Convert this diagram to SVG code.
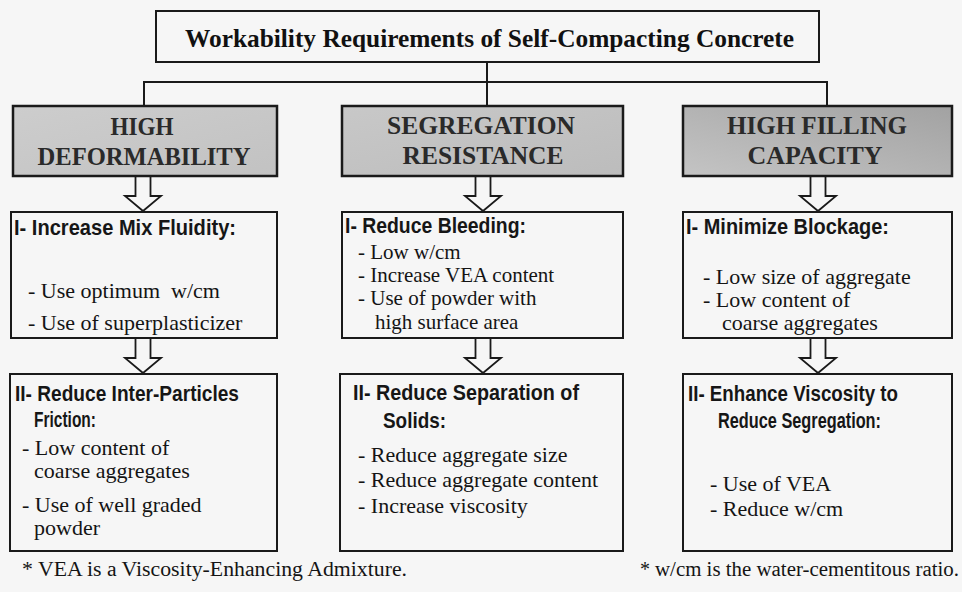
<svg xmlns="http://www.w3.org/2000/svg" width="962" height="592" viewBox="0 0 962 592">
<defs>
<style>
.bg{fill:#f6f6f6}
.box{fill:none;stroke:#1a1a1a;stroke-width:2}
.gbox{stroke:#1a1a1a;stroke-width:2.5}
.title{font-family:"Liberation Serif","Times New Roman",serif;font-weight:bold;font-size:25px;fill:#111}
.cat{font-family:"Liberation Serif","Times New Roman",serif;font-weight:bold;font-size:25px;fill:#2a2a2a;text-anchor:middle}
.hd{font-family:"Liberation Sans",Arial,sans-serif;font-weight:bold;font-size:22px;fill:#161616}
.tx{font-family:"Liberation Serif","Times New Roman",serif;font-size:22px;fill:#141414}
.tm{font-size:21px}
.fn{font-family:"Liberation Serif","Times New Roman",serif;font-size:20px;fill:#141414}
.ln{fill:none;stroke:#1a1a1a;stroke-width:2}
.arr{fill:#f6f6f6;stroke:#1a1a1a;stroke-width:1.8}
</style>
<linearGradient id="gL" x1="0" y1="0" x2="1" y2="1">
<stop offset="0" stop-color="#cdcdcd"/><stop offset="1" stop-color="#c2c2c2"/>
</linearGradient>
<linearGradient id="gM" x1="0" y1="0" x2="1" y2="1">
<stop offset="0" stop-color="#c8c8c8"/><stop offset="1" stop-color="#bcbcbc"/>
</linearGradient>
<linearGradient id="gR" x1="0" y1="1" x2="1" y2="0">
<stop offset="0" stop-color="#c4c4c4"/><stop offset="1" stop-color="#a2a2a2"/>
</linearGradient>
<path id="ar" d="M-7.5,0 V20 H-18 L0,35 L18,20 H7.5 V0"/>
</defs>
<rect class="bg" x="0" y="0" width="962" height="592"/>

<g id="connectors">
<polyline class="ln" points="144,107 144,82 827,82 827,107"/>
<line class="ln" x1="487" y1="62" x2="487" y2="106"/>
<use href="#ar" class="arr" transform="translate(143,176)"/>
<use href="#ar" class="arr" transform="translate(483,176)"/>
<use href="#ar" class="arr" transform="translate(818,176)"/>
<use href="#ar" class="arr" transform="translate(143,338)"/>
<use href="#ar" class="arr" transform="translate(483,338)"/>
<use href="#ar" class="arr" transform="translate(818,338)"/>
</g>

<g id="title">
<rect class="box" x="156" y="11" width="663" height="51" fill="#f6f6f6"/>
<text class="title" x="185" y="47" textLength="609" lengthAdjust="spacingAndGlyphs">Workability Requirements of Self-Compacting Concrete</text>
</g>

<g id="high-deformability">
<rect class="gbox" x="13" y="106" width="264" height="70" fill="url(#gL)"/>
<text class="cat" x="142" y="135" textLength="63" lengthAdjust="spacingAndGlyphs">HIGH</text>
<text class="cat" x="144" y="165" textLength="213" lengthAdjust="spacingAndGlyphs">DEFORMABILITY</text>
</g>

<g id="segregation-resistance">
<rect class="gbox" x="342" y="106" width="281" height="70" fill="url(#gM)"/>
<text class="cat" x="481" y="134" textLength="188" lengthAdjust="spacingAndGlyphs">SEGREGATION</text>
<text class="cat" x="483" y="164" textLength="161" lengthAdjust="spacingAndGlyphs">RESISTANCE</text>
</g>

<g id="high-filling-capacity">
<rect class="gbox" x="683" y="106" width="269" height="70" fill="url(#gR)"/>
<text class="cat" x="817" y="134" textLength="180" lengthAdjust="spacingAndGlyphs">HIGH FILLING</text>
<text class="cat" x="815" y="164" textLength="135" lengthAdjust="spacingAndGlyphs">CAPACITY</text>
</g>

<g id="increase-mix-fluidity">
<rect class="box" x="11" y="212" width="266" height="126"/>
<text class="hd" x="14" y="235" textLength="222" lengthAdjust="spacingAndGlyphs">I- Increase Mix Fluidity:</text>
<text class="tx" x="28" y="298">- Use optimum&#160; w/cm</text>
<text class="tx" x="28" y="330">- Use of superplasticizer</text>
</g>

<g id="reduce-bleeding">
<rect class="box" x="342" y="212" width="281" height="126"/>
<text class="hd" x="345" y="233" textLength="181" lengthAdjust="spacingAndGlyphs">I- Reduce Bleeding:</text>
<text class="tx tm" x="358" y="259">- Low w/cm</text>
<text class="tx tm" x="358" y="282">- Increase VEA content</text>
<text class="tx tm" x="358" y="305">- Use of powder with</text>
<text class="tx tm" x="375" y="329">high surface area</text>
</g>

<g id="minimize-blockage">
<rect class="box" x="683" y="212" width="269" height="126"/>
<text class="hd" x="686" y="234" textLength="203" lengthAdjust="spacingAndGlyphs">I- Minimize Blockage:</text>
<text class="tx" x="703" y="284">- Low size of aggregate</text>
<text class="tx" x="703" y="307">- Low content of</text>
<text class="tx" x="722" y="330">coarse aggregates</text>
</g>

<g id="reduce-inter-particles-friction">
<rect class="box" x="10" y="374" width="267" height="177"/>
<text class="hd" x="15" y="401" textLength="224" lengthAdjust="spacingAndGlyphs">II- Reduce Inter-Particles</text>
<text class="hd" x="34" y="427" textLength="62" lengthAdjust="spacingAndGlyphs">Friction:</text>
<text class="tx" x="22" y="455">- Low content of</text>
<text class="tx" x="34" y="478">coarse aggregates</text>
<text class="tx" x="22" y="512">- Use of well graded</text>
<text class="tx" x="34" y="535">powder</text>
</g>

<g id="reduce-separation-of-solids">
<rect class="box" x="340" y="374" width="283" height="177"/>
<text class="hd" x="353" y="400" textLength="226" lengthAdjust="spacingAndGlyphs">II- Reduce Separation of</text>
<text class="hd" x="383" y="428" textLength="63" lengthAdjust="spacingAndGlyphs">Solids:</text>
<text class="tx" x="358" y="462">- Reduce aggregate size</text>
<text class="tx" x="358" y="487">- Reduce aggregate content</text>
<text class="tx" x="358" y="513">- Increase viscosity</text>
</g>

<g id="enhance-viscosity">
<rect class="box" x="683" y="374" width="269" height="177"/>
<text class="hd" x="688" y="401" textLength="210" lengthAdjust="spacingAndGlyphs">II- Enhance Viscosity to</text>
<text class="hd" x="718" y="428" textLength="163" lengthAdjust="spacingAndGlyphs">Reduce Segregation:</text>
<text class="tx" x="710" y="491">- Use of VEA</text>
<text class="tx" x="710" y="516">- Reduce w/cm</text>
</g>

<g id="footnotes">
<text class="fn" x="22" y="576" textLength="385" lengthAdjust="spacingAndGlyphs">* VEA is a Viscosity-Enhancing Admixture.</text>
<text class="fn" x="640" y="576">*</text>
<text class="fn" x="655" y="576" textLength="304" lengthAdjust="spacingAndGlyphs">w/cm is the water-cementitous ratio.</text>
</g>
</svg>
